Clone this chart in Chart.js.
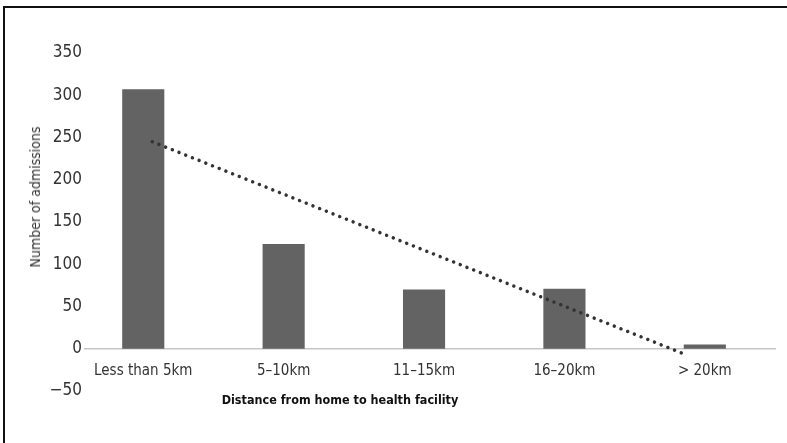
<!DOCTYPE html>
<html>
<head>
<meta charset="utf-8">
<script src="https://cdn.jsdelivr.net/npm/chart.js@4.4.0/dist/chart.umd.min.js"></script>
<style>
  body { margin: 0; background: #fff; }
  #wrap { position: relative; width: 787px; height: 443px; overflow: hidden; }
  #frame { position: absolute; left: 3px; top: 6px; width: 820px; height: 480px;
           border-left: 2px solid #111; border-top: 2px solid #111; }
  canvas { position: absolute; left: 0; top: 0; }
  .ttl { position: absolute; font-family: "Liberation Sans Narrow", "DejaVu Sans Condensed", Roboto, sans-serif;
         white-space: nowrap; line-height: 1; }
  #ytitle { left: 35px; top: 197px; font-size: 14px; color: #333;
            transform: translate(-50%, -50%) rotate(-90deg); }
  #xtitle { left: 340px; top: 400px; font-size: 12.5px; font-weight: bold; color: #111;
            transform: translate(-50%, -50%); }
</style>
</head>
<body>
<div id="wrap">
  <div id="frame"></div>
  <canvas id="myChart" width="787" height="443"></canvas>
  <div class="ttl" id="ytitle">Number of admissions</div>
  <div class="ttl" id="xtitle">Distance from home to health facility</div>
</div>
<script>
const categories = ['Less than 5km', '5\u201310km', '11\u201315km', '16\u201320km', '> 20km'];
const admissions = [307, 124, 70, 71, 5];
// dotted trend line (x in category units)
const trendX = [0.064, 3.85];
const trendY = [245, -6];
const yTicks = [-50, 0, 50, 100, 150, 200, 250, 300, 350];

const family = '"Liberation Sans Narrow", "DejaVu Sans Condensed", Roboto, sans-serif';

const data = {
    datasets: [{
        type: 'line',
        label: 'Trend',
        data: trendX.map((x, i) => ({ x: x, y: trendY[i] })),
        borderColor: '#333333',
        borderWidth: 3.5,
        borderDash: [0.01, 7.2],
        borderCapStyle: 'round',
        pointRadius: 0,
        fill: false,
        order: 0
    }, {
        type: 'bar',
        label: 'Admissions',
        data: categories.map((c, i) => ({ x: i, y: admissions[i] })),
        backgroundColor: '#636363',
        borderWidth: 0,
        barPercentage: 0.3,
        categoryPercentage: 1,
        order: 1
    }]
};

const config = {
    data: data,
    options: {
        responsive: false,
        animation: false,
        layout: { padding: { left: 0, right: 12, top: 53, bottom: 52 } },
        plugins: { legend: { display: false }, tooltip: { enabled: false } },
        scales: {
            x: {
                type: 'linear',
                position: { y: 0 },
                offset: false,
                min: -0.415,
                max: 4.5,
                afterBuildTicks: s => { s.ticks = categories.map((c, i) => ({ value: i })); },
                ticks: {
                    callback: v => categories[v],
                    font: { family: family, size: 15 },
                    color: '#333',
                    padding: 13,
                    maxRotation: 0,
                    autoSkip: false
                },
                grid: { display: true, offset: false, color: 'transparent', drawTicks: false },
                border: { display: true, color: '#c6c6c6', width: 1.5 }
            },
            y: {
                min: -50,
                max: 350,
                afterBuildTicks: s => { s.ticks = yTicks.map(v => ({ value: v })); },
                afterFit: s => { s.width = 85; },
                ticks: {
                    callback: v => v < 0 ? '\u2212' + Math.abs(v) : v,
                    font: { family: family, size: 17 },
                    color: '#333',
                    padding: 3
                },
                grid: { display: false, drawTicks: false },
                border: { display: false }
            }
        }
    }
};

const myChart = new Chart(document.getElementById('myChart'), config);
</script>
</body>
</html>
